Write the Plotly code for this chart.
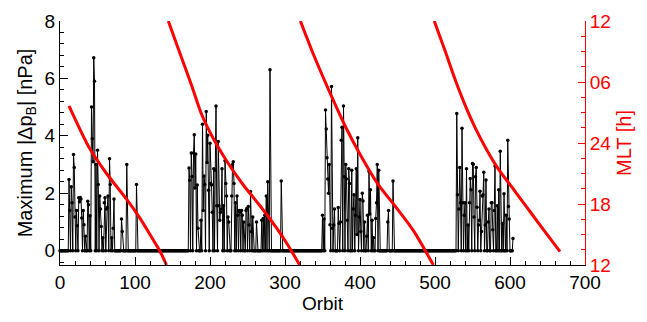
import plotly.graph_objects as go

# ---------------- data ----------------
n_orbits = 605  # orbits 0..604 carry a value (zero where no event)

cluster1_start = 12
cluster1_vals = [2.48, 1.4, 0, 2.23, 1.67, 0, 3.35, 2.9, 1.17, 0,
                 1.4, 0.87, 0, 1.84, 1.7, 1.85, 1.8, 1.14, 0, 1.4,
                 0.9, 0, 0.5, 0, 0, 1.72, 1.6, 0, 1.22, 0,
                 5.0, 3.9, 3.1, 6.72, 5.9, 0, 3.0, 0, 3.5, 2.3,
                 0, 1.9, 1.45, 0.84, 0, 0.45, 0, 1.67, 1.84, 0,
                 1.45, 1.5, 1.9, 0, 3.2, 2.3, 0, 0.45, 0, 0.78,
                 1.8, 0, 0, 0, 0, 0, 0, 0, 0, 0,
                 1.1, 0.67, 0, 0, 0, 0, 0, 3.0, 0, 0,
                 0, 0, 0, 0, 0, 0, 0, 0, 0, 0,
                 2.3]

cluster2_start = 172
cluster2_vals = [2.88, 2.45, 0, 3.4, 2.58, 0, 3.4, 4.04, 2.18, 3.37,
                 0, 2.29, 0.78, 0, 0, 0, 1.06, 0, 4.4, 1.4,
                 2.6, 2.3, 0, 4.85, 3.07, 4.02, 2.1, 0, 3.74, 2.34,
                 2.29, 1.34, 0, 2.85, 0, 2.8, 5.04, 1.56, 0, 3.8,
                 1.56, 1.06, 1.34, 1.45, 2.85, 0, 1.56, 0, 3.13, 2.34,
                 1.9, 0, 1.17, 1.0, 0, 0, 0, 1.9, 3.0, 3.1,
                 2.34, 0, 1.67, 0, 1.9, 1.23, 0, 1.4, 1.34, 0,
                 1.4, 1.23, 0, 1.0, 0, 0, 1.4, 1.47, 0, 1.54,
                 0.89, 0, 2.06, 0.67, 0, 1.17, 0, 0, 0, 0,
                 1.0, 0, 0, 0, 0, 0, 0, 1.06, 0, 1.12,
                 0, 1.23, 0, 1.9, 0, 2.4, 0, 0, 6.3, 0,
                 0, 0, 0, 0, 0, 0, 0, 0, 0, 0,
                 0, 0, 0, 2.43]

cluster3_start = 350
cluster3_vals = [1.23, 0, 1.1, 0, 4.9, 4.24, 3.24, 2.5, 2.0, 3.0,
                 0.9, 0, 5.72, 0.78, 0, 0.89, 1.45, 0, 0, 0,
                 0, 1.5, 0.95, 0, 1.0, 3.85, 4.3, 0, 5.04, 2.57,
                 0, 3.0, 2.5, 1.06, 0, 2.85, 2.34, 0, 0, 2.8,
                 0, 1.45, 1.95, 0, 1.23, 2.85, 0.56, 3.93, 0, 1.17,
                 1.78, 0.67, 0, 2.0, 1.73, 0, 1.0, 0, 0, 0.5,
                 1.23, 0, 2.76, 1.28, 2.12, 0, 1.06, 0, 0.45, 0,
                 0, 1.12, 1.67, 3.0, 0, 2.8, 0, 0, 0, 0,
                 0, 0, 0, 0, 0, 0, 0, 1.0, 1.4, 0,
                 0, 0, 0, 0, 2.43]

cluster4_start = 529
cluster4_vals = [4.78, 1.95, 0, 1.45, 2.9, 1.67, 0, 4.26, 1.67, 0,
                 1.23, 1.67, 0, 2.85, 0, 0.89, 0, 1.67, 2.51, 2.12,
                 0, 3.04, 3.01, 1.17, 0, 2.57, 2.9, 1.51, 0, 0.89,
                 1.06, 2.07, 0, 0.67, 1.9, 1.95, 2.73, 0, 0.89, 2.46,
                 0, 0, 1.0, 1.45, 0, 0, 1.67, 1.67, 0.73, 0,
                 1.4, 2.95, 0, 0, 1.56, 0, 2.12, 0, 3.46, 0,
                 0, 0.95, 0, 1.98, 0, 0, 1.23, 0, 3.85, 1.54,
                 1.1, 0, 0, 0, 0, 0.42]

# MLT (orbit, MLT hour on a 12..36 scale; 30 = 06, 36 = 12)
mlt_seg1_orbit = [12, 40, 62, 89, 107, 124, 133, 142]
mlt_seg1_hour = [27.66, 23.4, 21.0, 18.45, 16.56, 14.5, 13.4, 12.0]
mlt_seg2_orbit = [144.4, 160, 175.6, 188.9, 204.4, 222.2, 244.4, 266.7, 288.9, 304.4, 319.5]
mlt_seg2_hour = [36.0, 32.8, 29.64, 26.8, 24.44, 22.23, 19.87, 17.83, 15.62, 13.9, 12.0]
mlt_seg3_orbit = [320.5, 338, 357.8, 382, 400, 424.4, 446.7, 471, 497.8]
mlt_seg3_hour = [36.0, 32.7, 29.3, 25.4, 22.9, 19.9, 17.8, 15.4, 12.0]
mlt_seg4_orbit = [499, 513.3, 526.7, 540, 553.3, 568.9, 584.4, 606.7, 628.9, 651.1, 666.7]
mlt_seg4_hour = [36.0, 33.1, 30.27, 27.75, 25.54, 23.34, 21.45, 19.25, 17.04, 14.83, 13.32]

mlt_tickvals = [12, 18, 24, 30, 36]
mlt_ticktext = ["12", "18", "24", "06", "12"]

# ---------------- build series ----------------
orbit = list(range(n_orbits))
dp = [0.0] * n_orbits
for start, vals in [(cluster1_start, cluster1_vals), (cluster2_start, cluster2_vals),
                    (cluster3_start, cluster3_vals), (cluster4_start, cluster4_vals)]:
    for i, v in enumerate(vals):
        dp[start + i] = v

mx, my = [], []
for xs, ys in [(mlt_seg1_orbit, mlt_seg1_hour), (mlt_seg2_orbit, mlt_seg2_hour),
               (mlt_seg3_orbit, mlt_seg3_hour), (mlt_seg4_orbit, mlt_seg4_hour)]:
    mx += xs + [None]
    my += ys + [None]

FONT = "Liberation Sans, Arial, Helvetica, sans-serif"

fig = go.Figure()
fig.add_trace(go.Scatter(x=orbit, y=dp, mode="lines+markers",
                         line=dict(color="black", width=1),
                         marker=dict(color="black", size=3.5),
                         showlegend=False, yaxis="y", cliponaxis=False))
fig.add_trace(go.Scatter(x=mx, y=my, mode="lines",
                         line=dict(color="#ff0000", width=3, shape="spline", smoothing=0.8),
                         connectgaps=False, showlegend=False, yaxis="y2"))

fig.update_layout(
    width=647, height=322,
    margin=dict(l=60, r=62, t=11, b=57),
    plot_bgcolor="white", paper_bgcolor="white",
    font=dict(family=FONT, size=19, color="black"),
    xaxis=dict(range=[0, 700], dtick=100, tick0=0, ticks="inside", ticklen=8, tickcolor="black",
               showline=True, linecolor="black", linewidth=1, showgrid=False, zeroline=False,
               minor=dict(dtick=20, ticks="inside", ticklen=4, tickcolor="black"),
               title=dict(text="Orbit", font=dict(size=19), standoff=4),
               tickfont=dict(size=19)),
    yaxis=dict(range=[-0.5, 8], dtick=2, tick0=0, ticks="inside", ticklen=8, tickcolor="black",
               showline=True, linecolor="black", linewidth=1, showgrid=False, zeroline=False,
               minor=dict(dtick=0.4, tick0=0, ticks="inside", ticklen=4, tickcolor="black"),
               title=dict(text="Maximum |Δp<sub>B</sub>| [nPa]", font=dict(size=20), standoff=6),
               tickfont=dict(size=19)),
    yaxis2=dict(range=[12, 36], overlaying="y", side="right", anchor="x",
                tickvals=mlt_tickvals, ticktext=mlt_ticktext,
                ticks="inside", ticklen=7, tickcolor="#ff0000",
                showline=True, linecolor="#ff0000", linewidth=1, showgrid=False, zeroline=False,
                minor=dict(dtick=1.5, tick0=12, ticks="inside", ticklen=4, tickcolor="#ff0000"),
                title=dict(text="MLT [h]", font=dict(size=20, color="#ff0000"), standoff=6),
                tickfont=dict(size=19, color="#ff0000")),
)

fig.write_html("out.html")
